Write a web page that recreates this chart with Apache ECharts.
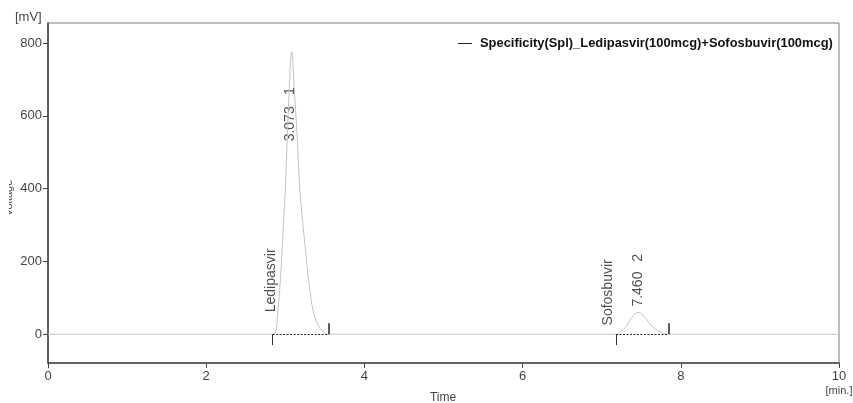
<!DOCTYPE html>
<html>
<head>
<meta charset="utf-8">
<script src="https://cdn.jsdelivr.net/npm/echarts@6/dist/echarts.min.js"></script>
<style>html,body{margin:0;padding:0;background:#fff}#c{width:853px;height:403px}</style>
</head>
<body>
<div id="c"></div>
<script>
// ---- data ----
var seriesName = 'Specificity(Spl)_Ledipasvir(100mcg)+Sofosbuvir(100mcg)';
var signalTime = [0, 2.832, 2.876, 2.899, 2.933, 2.958, 2.981, 3.003, 3.024, 3.049, 3.081, 3.114, 3.152, 3.180, 3.215, 3.258, 3.303, 3.375, 3.480, 3.540,
                  7.19, 7.231, 7.316, 7.379, 7.462, 7.547, 7.632, 7.715, 7.80, 7.84, 10];
var signalMv   = [0, 0, 6, 45, 135, 226, 320, 410, 534, 671, 776, 671, 534, 410, 320, 226, 135, 45, 6, 0,
                  0, 5, 23, 46, 60, 46, 23, 9, 1, 0, 0];
var peakStart = [2.84, 7.18];
var peakEnd   = [3.549, 7.842];
var baselineTick = 30;
var xTicks = [0, 2, 4, 6, 8, 10];
var yTicks = [0, 200, 400, 600, 800];
// annotations: [time, mV, text]
var annotTime = [2.82, 3.06, 3.06, 7.08, 7.46, 7.46];
var annotMv   = [148, 578, 668, 115, 124, 210];
var annotText = ['Ledipasvir', '3.073', '1', 'Sofosbuvir', '7.460', '2'];

var chart = echarts.init(document.getElementById('c'), null, {renderer: 'canvas'});
var FONT = '"Liberation Sans", Arial, sans-serif';

var signal = signalTime.map(function (t, i) { return [t, signalMv[i]]; });

var mlData = [];
for (var i = 0; i < peakStart.length; i++) {
  mlData.push([{coord: [peakStart[i], 0], lineStyle: {type: [2, 1.5], color: '#222', width: 1}}, {coord: [peakEnd[i], 0]}]);
  mlData.push([{coord: [peakStart[i], 0], lineStyle: {type: 'solid', color: '#333', width: 1}}, {coord: [peakStart[i], -baselineTick]}]);
  mlData.push([{coord: [peakEnd[i], 0], lineStyle: {type: 'solid', color: '#222', width: 1.5}}, {coord: [peakEnd[i], baselineTick]}]);
}

var annot = annotTime.map(function (t, i) {
  return {value: [t, annotMv[i]], label: {formatter: annotText[i]}};
});

chart.setOption({
  animation: false,
  backgroundColor: '#fff',
  grid: {left: 48, right: 14, top: 23, bottom: 40, show: true, borderColor: '#7a7a7a', borderWidth: 1},
  legend: {
    data: [seriesName], left: 453, top: 32, itemWidth: 14, itemHeight: 1, icon: 'rect',
    itemStyle: {color: '#222'},
    textStyle: {fontFamily: FONT, fontWeight: 'bold', fontSize: 12.9, color: '#111', padding: [0, 0, 0, 3]}
  },
  xAxis: {
    type: 'value', min: 0, max: 10, interval: 2,
    axisLine: {show: true, onZero: false, lineStyle: {color: '#444', width: 1.5}},
    axisTick: {show: true, inside: false, length: 5, lineStyle: {color: '#444'}},
    axisLabel: {fontFamily: FONT, fontSize: 13, color: '#444', margin: 7, customValues: xTicks},
    splitLine: {show: false}
  },
  yAxis: {
    type: 'value', min: -79, max: 855,
    axisLine: {show: true, onZero: false, lineStyle: {color: '#444', width: 1.5}},
    axisTick: {show: true, inside: false, length: 5, lineStyle: {color: '#444'}, customValues: yTicks},
    axisLabel: {fontFamily: FONT, fontSize: 13, color: '#444', margin: 6, customValues: yTicks},
    splitLine: {show: false}
  },
  graphic: [
    {type: 'text', left: 15, top: 11, style: {text: '[mV]', font: '13px ' + FONT, fill: '#444'}},
    {type: 'text', x: 839, y: 391, style: {text: '[min.]', font: '11px ' + FONT, fill: '#444', align: 'center', verticalAlign: 'middle'}},
    {type: 'text', x: 443, y: 398, style: {text: 'Time', font: '12px ' + FONT, fill: '#444', align: 'center', verticalAlign: 'middle'}},
    {type: 'text', x: 9, y: 198, rotation: Math.PI / 2, style: {text: 'Voltage', font: '11px ' + FONT, fill: '#444', align: 'center', verticalAlign: 'middle'}, z: 10},
    {type: 'rect', shape: {x: 0, y: 170, width: 9, height: 60}, style: {fill: '#fff'}, z: 20}
  ],
  series: [
    {
      name: seriesName, type: 'line', data: signal, showSymbol: false, smooth: 0.4,
      lineStyle: {color: '#c2c2c2', width: 1},
      itemStyle: {color: '#c2c2c2'},
      markLine: {silent: true, symbol: ['none', 'none'], label: {show: false}, data: mlData, animation: false}
    },
    {
      name: 'annot', type: 'scatter', data: annot, symbolSize: 0, silent: true,
      label: {show: true, position: 'inside', rotate: 90, fontFamily: FONT, fontSize: 14, color: '#222', align: 'center', verticalAlign: 'middle'}
    }
  ]
});
</script>
</body>
</html>
